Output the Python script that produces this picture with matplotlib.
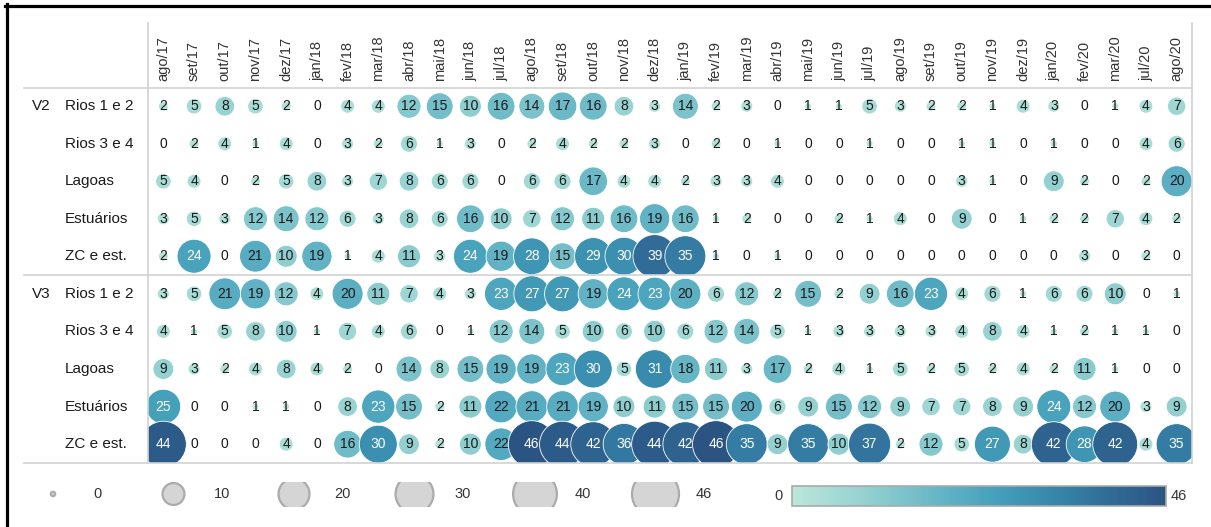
"""Bubble grid: monthly counts per habitat, V2 vs V3."""

import matplotlib

matplotlib.use("Agg")
import matplotlib.pyplot as plt  # noqa: E402
import numpy as np
from matplotlib.colors import LinearSegmentedColormap, Normalize
from matplotlib.colorbar import ColorbarBase
from matplotlib.lines import Line2D
from matplotlib.transforms import blended_transform_factory

plt.rcParams["font.family"] = ["Liberation Sans", "DejaVu Sans"]

MONTHS = [
    "ago/17", "set/17", "out/17", "nov/17", "dez/17", "jan/18", "fev/18", "mar/18",
    "abr/18", "mai/18", "jun/18", "jul/18", "ago/18", "set/18", "out/18", "nov/18",
    "dez/18", "jan/19", "fev/19", "mar/19", "abr/19", "mai/19", "jun/19", "jul/19",
    "ago/19", "set/19", "out/19", "nov/19", "dez/19", "jan/20", "fev/20", "mar/20",
    "jul/20", "ago/20",
]
ROWS = ["Rios 1 e 2", "Rios 3 e 4", "Lagoas", "Estuários", "ZC e est."]
GROUPS = ["V2", "V3"]

V2_RIOS12 = [2, 5, 8, 5, 2, 0, 4, 4, 12, 15, 10, 16, 14, 17, 16, 8, 3, 14, 2, 3, 0, 1, 1, 5, 3, 2, 2, 1, 4, 3, 0, 1, 4, 7]
V2_RIOS34 = [0, 2, 4, 1, 4, 0, 3, 2, 6, 1, 3, 0, 2, 4, 2, 2, 3, 0, 2, 0, 1, 0, 0, 1, 0, 0, 1, 1, 0, 1, 0, 0, 4, 6]
V2_LAGOAS = [5, 4, 0, 2, 5, 8, 3, 7, 8, 6, 6, 0, 6, 6, 17, 4, 4, 2, 3, 3, 4, 0, 0, 0, 0, 0, 3, 1, 0, 9, 2, 0, 2, 20]
V2_ESTUARIOS = [3, 5, 3, 12, 14, 12, 6, 3, 8, 6, 16, 10, 7, 12, 11, 16, 19, 16, 1, 2, 0, 0, 2, 1, 4, 0, 9, 0, 1, 2, 2, 7, 4, 2]
V2_ZC = [2, 24, 0, 21, 10, 19, 1, 4, 11, 3, 24, 19, 28, 15, 29, 30, 39, 35, 1, 0, 1, 0, 0, 0, 0, 0, 0, 0, 0, 0, 3, 0, 2, 0]

V3_RIOS12 = [3, 5, 21, 19, 12, 4, 20, 11, 7, 4, 3, 23, 27, 27, 19, 24, 23, 20, 6, 12, 2, 15, 2, 9, 16, 23, 4, 6, 1, 6, 6, 10, 0, 1]
V3_RIOS34 = [4, 1, 5, 8, 10, 1, 7, 4, 6, 0, 1, 12, 14, 5, 10, 6, 10, 6, 12, 14, 5, 1, 3, 3, 3, 3, 4, 8, 4, 1, 2, 1, 1, 0]
V3_LAGOAS = [9, 3, 2, 4, 8, 4, 2, 0, 14, 8, 15, 19, 19, 23, 30, 5, 31, 18, 11, 3, 17, 2, 4, 1, 5, 2, 5, 2, 4, 2, 11, 1, 0, 0]
V3_ESTUARIOS = [25, 0, 0, 1, 1, 0, 8, 23, 15, 2, 11, 22, 21, 21, 19, 10, 11, 15, 15, 20, 6, 9, 15, 12, 9, 7, 7, 8, 9, 24, 12, 20, 3, 9]
V3_ZC = [44, 0, 0, 0, 4, 0, 16, 30, 9, 2, 10, 22, 46, 44, 42, 36, 44, 42, 46, 35, 9, 35, 10, 37, 2, 12, 5, 27, 8, 42, 28, 42, 4, 35]

LEGEND_VALUES = [0, 10, 20, 30, 40, 46]
VMIN, VMAX = 0, 46

W, H = 1211, 527
RMAX = 23.5  # px radius of the largest bubble
INK = "#1a1a1a"
GRID = "#d2d2d2"

CMAP = LinearSegmentedColormap.from_list(
    "tealblue",
    [
        (0.0, "#bce6da"),
        (0.2, "#93d0d0"),
        (0.4, "#63b4c5"),
        (0.55, "#449fba"),
        (0.7, "#3787ab"),
        (0.85, "#306c97"),
        (1.0, "#2c5483"),
    ],
)
NORM = Normalize(VMIN, VMAX)


def fx(px):
    return px / W


def fy(py):
    return 1 - py / H


def _size(values, rmin=0.0):
    r = np.maximum(RMAX * np.sqrt(np.asarray(values, float) / VMAX), rmin)
    return (2 * r * 72 / 100) ** 2


def _panel(fig, top, bottom, group, rows):
    ax = fig.add_axes([fx(148), fy(bottom), fx(1192) - fx(148), (bottom - top) / H])
    ax.set_xlim(-0.5, len(MONTHS) - 0.5)
    ax.set_ylim(len(rows) - 0.5, -0.5)
    ax.axis("off")
    xs = np.arange(len(MONTHS))
    for i, vals in enumerate(rows):
        vals = np.asarray(vals)
        ax.scatter(xs, np.full(len(xs), i), s=_size(vals), c=vals, cmap=CMAP, norm=NORM,
                   edgecolors="white", linewidths=0.6, zorder=2)
        for x, v in zip(xs, vals):
            ax.text(x, i, str(v), ha="center", va="center", fontsize=10,
                    color="white" if v > 22 else INK, zorder=3)
    lab = blended_transform_factory(fig.transFigure, ax.transData)
    ax.text(fx(32), 0, group, transform=lab, ha="left", va="center", fontsize=11,
            color=INK, clip_on=False)
    for i, name in enumerate(ROWS):
        ax.text(fx(65), i, name, transform=lab, ha="left", va="center", fontsize=11,
                color=INK, clip_on=False)
    return ax


def main():
    fig = plt.figure(figsize=(W / 100, H / 100), dpi=100)

    ax2 = _panel(fig, 87.5, 275, GROUPS[0], [V2_RIOS12, V2_RIOS34, V2_LAGOAS, V2_ESTUARIOS, V2_ZC])
    _panel(fig, 275, 463, GROUPS[1], [V3_RIOS12, V3_RIOS34, V3_LAGOAS, V3_ESTUARIOS, V3_ZC])

    # month header
    hdr = blended_transform_factory(ax2.transData, fig.transFigure)
    for i, m in enumerate(MONTHS):
        ax2.text(i, fy(81), m, transform=hdr, rotation=90, ha="center", va="bottom",
                 fontsize=10.5, color="#333333", clip_on=False)

    # table lines
    for y in (87.5, 275, 463):
        fig.add_artist(Line2D([fx(24), fx(1192)], [fy(y), fy(y)], color=GRID, lw=1.2))
    for x in (148, 1192):
        fig.add_artist(Line2D([fx(x), fx(x)], [fy(23), fy(463)], color=GRID, lw=1.2))

    # outer black frame (top and left)
    fig.add_artist(Line2D([fx(5), 1], [fy(5.5), fy(5.5)], color="black", lw=2.3))
    fig.add_artist(Line2D([fx(6.5), fx(6.5)], [fy(4), 0], color="black", lw=2.3))

    # size legend, clipped to a thin band
    axl = fig.add_axes([0, fy(507), 1, 25 / H])
    axl.set_xlim(0, W)
    axl.set_ylim(507, 482)
    axl.axis("off")
    lx = 53 + 120.5 * np.arange(len(LEGEND_VALUES))
    axl.scatter(lx, np.full(len(lx), 494), s=_size(LEGEND_VALUES, rmin=2.2),
                facecolor="#d5d5d5", edgecolor="#ababab", linewidths=1.6)
    for x, v in zip(lx, LEGEND_VALUES):
        axl.text(x + 40, 494, str(v), ha="left", va="center", fontsize=10.5,
                 color="#333333", clip_on=False)

    # colour bar
    axc = fig.add_axes([fx(792), fy(506), fx(1166) - fx(792), 20 / H])
    cb = ColorbarBase(axc, cmap=CMAP, norm=NORM, orientation="horizontal")
    cb.set_ticks([])
    cb.outline.set_edgecolor("#aaaaaa")
    cb.outline.set_linewidth(1.2)
    fig.text(fx(783), fy(495.5), str(VMIN), ha="right", va="center", fontsize=10.5, color="#333333")
    fig.text(fx(1171), fy(495.5), str(VMAX), ha="left", va="center", fontsize=10.5, color="#333333")

    fig.savefig("out.png", dpi=100, facecolor="white")
    plt.close(fig)


if __name__ == "__main__":
    main()
